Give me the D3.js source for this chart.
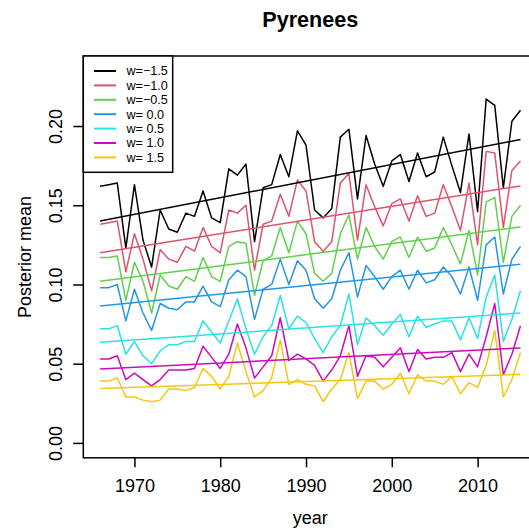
<!DOCTYPE html>
<html>
<head>
<meta charset="utf-8">
<script src="https://cdn.jsdelivr.net/npm/d3@7"></script>
<style>
  body { margin: 0; background: #fff; }
  text { font-family: "Liberation Sans", Arial, sans-serif; fill: #000; }
</style>
</head>
<body>
<div id="chart"></div>
<script>
const years = d3.range(1966, 2016);
const labels = ["w=\u22121.5", "w=\u22121.0", "w=\u22120.5", "w= 0.0", "w= 0.5", "w= 1.0", "w= 1.5"];
const colors = ["#000000", "#DF536B", "#61D04F", "#2297E6", "#28E2E5", "#CD0BBC", "#F5C710"];

// posterior means, 1966-2015
const wm15 = [0.162,0.163,0.164,0.123,0.163,0.128,0.111,0.147,0.135,0.133,0.145,0.143,0.159,0.142,0.139,
  0.173,0.169,0.176,0.127,0.161,0.163,0.182,0.168,0.197,0.188,
  0.147,0.142,0.148,0.193,0.198,0.154,0.194,0.176,0.162,0.178,
  0.182,0.165,0.183,0.168,0.171,0.193,0.175,0.158,0.195,0.146,
  0.217,0.213,0.161,0.203,0.210];
const wm10 = [0.138,0.139,0.140,0.108,0.132,0.116,0.096,0.122,0.116,0.114,0.124,0.121,0.136,0.124,0.120,
  0.147,0.145,0.150,0.109,0.138,0.140,0.157,0.143,0.166,0.159,
  0.127,0.121,0.127,0.164,0.170,0.128,0.163,0.149,0.137,0.151,
  0.154,0.140,0.156,0.143,0.145,0.163,0.149,0.134,0.164,0.125,
  0.184,0.183,0.136,0.172,0.178];
const wm05 = [0.117,0.117,0.118,0.090,0.114,0.102,0.082,0.106,0.099,0.097,0.105,0.102,0.117,0.105,0.102,
  0.124,0.127,0.126,0.093,0.115,0.118,0.136,0.120,0.140,0.132,
  0.107,0.102,0.107,0.132,0.144,0.116,0.136,0.124,0.116,0.127,
  0.130,0.117,0.130,0.121,0.123,0.136,0.125,0.113,0.134,0.106,
  0.152,0.155,0.114,0.143,0.150];
const w00 = [0.098,0.098,0.100,0.077,0.097,0.082,0.071,0.088,0.085,0.084,0.089,0.089,0.099,0.089,0.086,
  0.103,0.109,0.105,0.078,0.097,0.100,0.116,0.100,0.115,0.109,
  0.091,0.085,0.091,0.109,0.120,0.092,0.112,0.105,0.097,0.105,
  0.109,0.097,0.109,0.101,0.103,0.111,0.105,0.094,0.111,0.090,
  0.125,0.130,0.094,0.116,0.124];
const w05 = [0.072,0.072,0.074,0.056,0.064,0.055,0.050,0.058,0.062,0.062,0.064,0.064,0.077,0.070,0.063,
  0.077,0.091,0.072,0.056,0.067,0.074,0.093,0.072,0.080,0.076,
  0.066,0.057,0.067,0.074,0.094,0.062,0.079,0.074,0.068,0.075,
  0.081,0.067,0.080,0.073,0.075,0.077,0.077,0.065,0.079,0.066,
  0.092,0.106,0.064,0.078,0.096];
const w10 = [0.053,0.053,0.055,0.040,0.044,0.040,0.036,0.040,0.046,0.046,0.046,0.047,0.061,0.054,0.047,
  0.056,0.075,0.060,0.041,0.048,0.055,0.079,0.052,0.056,0.053,
  0.049,0.039,0.046,0.055,0.074,0.042,0.055,0.054,0.048,0.054,
  0.060,0.045,0.059,0.053,0.054,0.054,0.057,0.045,0.056,0.048,
  0.067,0.088,0.043,0.056,0.074];
const w15 = [0.039,0.039,0.041,0.029,0.029,0.027,0.026,0.027,0.034,0.034,0.033,0.035,0.047,0.042,0.034,
  0.042,0.063,0.045,0.029,0.033,0.041,0.065,0.037,0.040,0.037,
  0.036,0.026,0.034,0.040,0.057,0.028,0.039,0.039,0.034,0.037,
  0.044,0.031,0.043,0.039,0.039,0.037,0.042,0.031,0.038,0.035,
  0.049,0.071,0.029,0.040,0.057];

// fitted trend, value at 1966 and at 2015
const trendStart = [0.1400, 0.1200, 0.1020, 0.0864, 0.0635, 0.0467, 0.0343];
const trendEnd   = [0.1915, 0.1622, 0.1363, 0.1128, 0.0820, 0.0599, 0.0433];

const xTicks = [1970, 1980, 1990, 2000, 2010];
const yTicks = [0, 0.05, 0.10, 0.15, 0.20];

const series = [wm15, wm10, wm05, w00, w05, w10, w15];

const width = 529, height = 528;
const plot = { left: 83.3, right: 537.3, top: 56, bottom: 457.8 };

const x = d3.scaleLinear().domain([1964.04, 2016.96]).range([plot.left, plot.right]);
const y = d3.scaleLinear().domain([-0.0094, 0.2442]).range([plot.bottom, plot.top]);

const svg = d3.select("#chart").append("svg")
  .attr("width", width)
  .attr("height", height);

const line = d3.line()
  .x(d => x(d[0]))
  .y(d => y(d[1]));

// data lines
series.forEach((vals, i) => {
  svg.append("path")
    .attr("d", line(years.map((yr, j) => [yr, vals[j]])))
    .attr("fill", "none")
    .attr("stroke", colors[i])
    .attr("stroke-width", 1.5)
    .attr("stroke-linejoin", "round");
});

// trend lines
series.forEach((vals, i) => {
  svg.append("path")
    .attr("d", line([[years[0], trendStart[i]], [years[years.length - 1], trendEnd[i]]]))
    .attr("fill", "none")
    .attr("stroke", colors[i])
    .attr("stroke-width", 1.5);
});

// box
svg.append("rect")
  .attr("x", plot.left)
  .attr("y", plot.top)
  .attr("width", plot.right - plot.left)
  .attr("height", plot.bottom - plot.top)
  .attr("fill", "none")
  .attr("stroke", "#000")
  .attr("stroke-width", 1.5);

// x axis
svg.append("g")
  .attr("transform", `translate(0, ${plot.bottom})`)
  .call(d3.axisBottom(x).tickValues(xTicks).tickFormat(d3.format("d")).tickSize(9.5).tickPadding(12))
  .call(g => g.select(".domain").remove())
  .call(g => g.selectAll("line").attr("stroke-width", 1.5))
  .call(g => g.selectAll("text").attr("font-size", 18).attr("font-family", "Liberation Sans, Arial, sans-serif"));

// y axis
const yAxis = svg.append("g")
  .attr("transform", `translate(${plot.left}, 0)`)
  .call(d3.axisLeft(y).tickValues(yTicks).tickFormat(d3.format(".2f")).tickSize(10))
  .call(g => g.select(".domain").remove())
  .call(g => g.selectAll("line").attr("stroke-width", 1.5));
yAxis.selectAll("text").remove();
yAxis.selectAll(".tick").append("text")
  .attr("transform", "translate(-21.5, 0) rotate(-90)")
  .attr("text-anchor", "middle")
  .attr("font-size", 18)
  .text(d => d3.format(".2f")(d));

// titles
svg.append("text")
  .attr("x", (plot.left + plot.right) / 2)
  .attr("y", 27)
  .attr("text-anchor", "middle")
  .attr("font-size", 21.6)
  .attr("font-weight", "bold")
  .text("Pyrenees");

svg.append("text")
  .attr("x", (plot.left + plot.right) / 2)
  .attr("y", 524)
  .attr("text-anchor", "middle")
  .attr("font-size", 18)
  .text("year");

svg.append("text")
  .attr("transform", `translate(31, ${(plot.top + plot.bottom) / 2}) rotate(-90)`)
  .attr("text-anchor", "middle")
  .attr("font-size", 18)
  .text("Posterior mean");

// legend
const legend = svg.append("g");
legend.append("rect")
  .attr("x", plot.left)
  .attr("y", plot.top)
  .attr("width", 89.4)
  .attr("height", 116.3)
  .attr("fill", "#fff")
  .attr("stroke", "#000")
  .attr("stroke-width", 1.5);

const item = legend.selectAll(".item")
  .data(labels)
  .enter().append("g")
    .attr("class", "item")
    .attr("transform", (d, i) => `translate(0, ${71 + i * 14.4})`);

item.append("line")
  .attr("x1", 94)
  .attr("x2", 116)
  .attr("stroke", (d, i) => colors[i])
  .attr("stroke-width", 2);

item.append("text")
  .attr("x", 126.5)
  .attr("dy", "0.35em")
  .attr("font-size", 12.6)
  .text(d => d);
</script>
</body>
</html>
